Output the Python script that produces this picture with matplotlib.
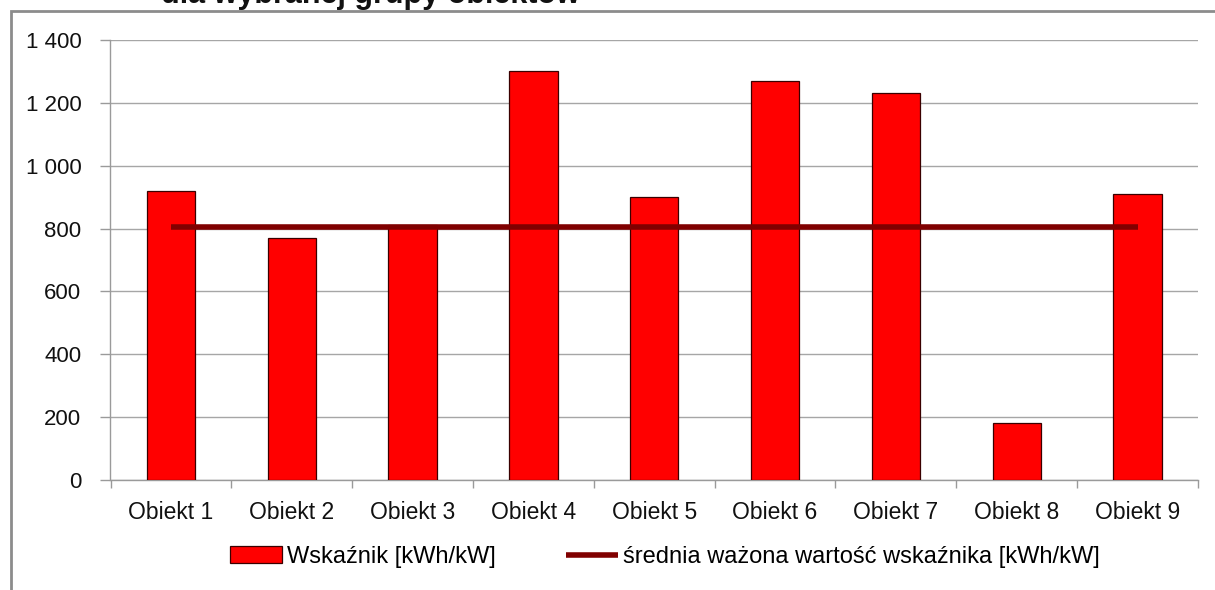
import numpy as np
import matplotlib
matplotlib.use("Agg")
import matplotlib.pyplot as plt
from matplotlib.patches import Rectangle

# data
obiekty = ["Obiekt 1", "Obiekt 2", "Obiekt 3", "Obiekt 4", "Obiekt 5",
           "Obiekt 6", "Obiekt 7", "Obiekt 8", "Obiekt 9"]
wskaznik = [920, 770, 810, 1300, 900, 1270, 1230, 180, 910]
srednia = 805
y_ticks = [0, 200, 400, 600, 800, 1000, 1200, 1400]
y_labels = ["0", "200", "400", "600", "800", "1 000", "1 200", "1 400"]

plt.rcParams["font.family"] = ["Liberation Sans", "DejaVu Sans"]

W, H = 1215, 590
fig = plt.figure(figsize=(W / 100, H / 100), dpi=100)
ax = fig.add_axes([110.5 / W, 1 - 480 / H, (1198 - 110.5) / W, 440 / H])

x = np.arange(len(obiekty))
bars = ax.bar(x, wskaznik, width=0.4, color="#ff0000", edgecolor="#3a0000",
              linewidth=0.9, zorder=3, label="Wskaźnik [kWh/kW]")
line, = ax.plot(x, [srednia] * len(x), color="#800000", linewidth=4,
                solid_capstyle="butt", zorder=4,
                label="średnia ważona wartość wskaźnika [kWh/kW]")

ax.set_xlim(-0.5, len(obiekty) - 0.5)
ax.set_ylim(0, 1400)

ax.set_yticks(y_ticks)
ax.set_yticklabels(y_labels)
ax.set_xticks(x)
ax.set_xticklabels(obiekty)
ax.set_xticks(np.arange(len(obiekty) + 1) - 0.5, minor=True)

grey = "#9a9a9a"
ax.tick_params(axis="y", length=7, width=1, color=grey, pad=14,
               labelsize=16, labelcolor="#111111")
ax.tick_params(axis="x", which="major", length=0, pad=15,
               labelsize=16.5, labelcolor="#111111")
ax.tick_params(axis="x", which="minor", length=6, width=1, color=grey)

ax.yaxis.grid(True, color="#a6a6a6", linewidth=1, zorder=0)
ax.set_axisbelow(True)
for s in ["top", "right"]:
    ax.spines[s].set_visible(False)
for s in ["left", "bottom"]:
    ax.spines[s].set_color(grey)
    ax.spines[s].set_linewidth(1)

ax.legend(handles=[bars, line], loc="center",
          bbox_to_anchor=(665 / W, 1 - 557 / H), bbox_transform=fig.transFigure,
          ncol=2, frameon=False, fontsize=17, handlelength=2.2,
          handleheight=0.7, handletextpad=0.2, columnspacing=3.0,
          borderpad=0)

# outer chart frame (cut off at right and bottom)
fig.patches.append(Rectangle((11 / W, -0.1), 1.2, 1.1 - 11 / H,
                             transform=fig.transFigure, fill=False,
                             edgecolor="#8c8c8c", linewidth=2))

# title, mostly cut off at the top
fig.text(370 / W, 1 - 3 / H, "dla wybranej grupy obiektów", ha="center",
         va="baseline", fontsize=22, fontweight="bold", color="#111111")

fig.savefig("out.png", dpi=100)
